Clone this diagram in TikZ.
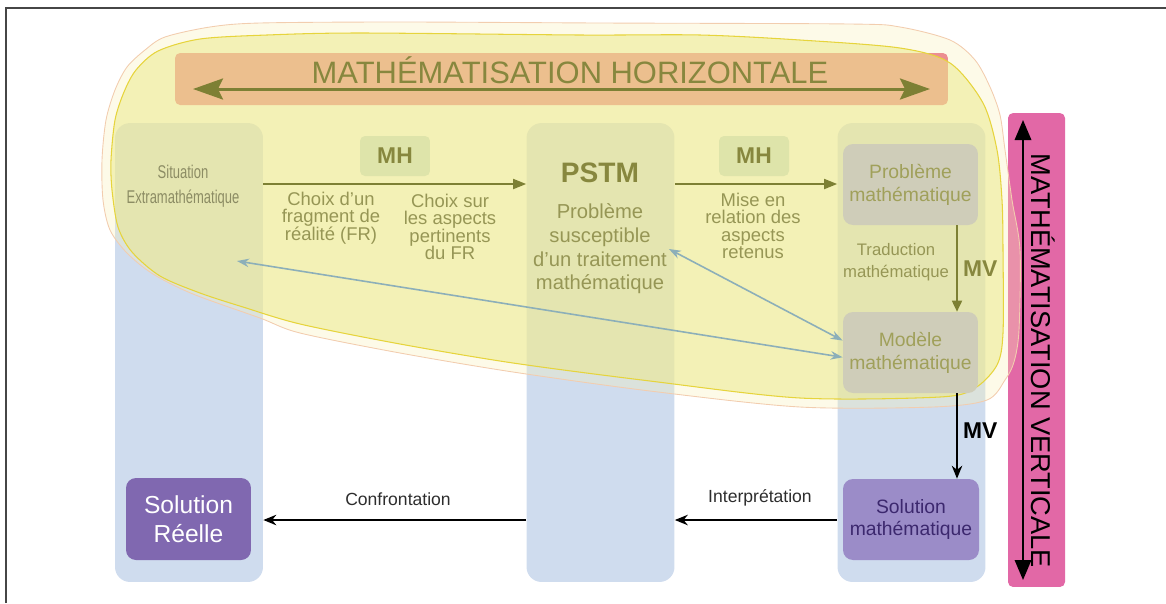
\documentclass[tikz,border=0pt]{standalone}
\usepackage{fontspec}
\setmainfont{Liberation Sans}
\usetikzlibrary{arrows.meta}
\usetikzlibrary{positioning}

\definecolor{framegray}{RGB}{70,70,70}
\definecolor{colblue}{RGB}{207,220,238}
\definecolor{bannerred}{RGB}{230,100,130}
\definecolor{barpink}{RGB}{226,104,166}
\definecolor{blobpale}{RGB}{250,240,180}
\definecolor{blobyellow}{RGB}{236,233,140}
\definecolor{blobline}{RGB}{230,212,60}
\definecolor{bloboutline}{RGB}{242,205,175}
\definecolor{titleolive}{RGB}{135,135,62}
\definecolor{arrowolive}{RGB}{125,128,52}
\definecolor{textolive}{RGB}{150,150,85}
\definecolor{sitgray}{RGB}{140,140,100}
\definecolor{mhfill}{RGB}{222,228,170}
\definecolor{boxgray}{RGB}{207,205,185}
\definecolor{boxtext}{RGB}{160,160,90}
\definecolor{linkblue}{RGB}{140,175,185}
\definecolor{solmfill}{RGB}{155,140,200}
\definecolor{solmtext}{RGB}{60,40,110}
\definecolor{solrfill}{RGB}{128,104,176}
\definecolor{labelgray}{RGB}{45,45,45}

\begin{document}
\begin{tikzpicture}[x=0.02cm,y=-0.02cm,
    column/.style={fill=colblue,rounded corners=0.3cm,minimum width=2.96cm,minimum height=9.18cm,inner sep=0pt},
    mhbox/.style={fill=mhfill,rounded corners=0.1cm,minimum width=1.4cm,minimum height=0.8cm,text=titleolive,font=\bfseries\fontsize{13}{15}\selectfont},
    graybox/.style={fill=boxgray,rounded corners=0.2cm,minimum width=2.7cm,minimum height=1.62cm,align=center,text=boxtext,font=\fontsize{11}{13}\selectfont},
    smalltext/.style={align=center,text=textolive,inner sep=1pt,font=\fontsize{10.5}{10}\selectfont},
    midtext/.style={align=center,text=textolive,inner sep=1pt,font=\fontsize{11.5}{13.5}\selectfont},
    labeltext/.style={text=labelgray,font=\fontsize{10}{12}\selectfont},
    mvlabel/.style={font=\bfseries\fontsize{13}{15}\selectfont,inner sep=1pt},
    mharrow/.style={draw=arrowolive,line width=1pt,-{Triangle[length=2.6mm,width=2mm]}},
    blackarrow/.style={draw=black,line width=1pt,-{Stealth[length=2.6mm,width=2.1mm]}},
    linkarrow/.style={draw=linkblue,line width=0.9pt,{Stealth[length=2.4mm,width=1.7mm]}-{Stealth[length=2.4mm,width=1.7mm]}}]
  \useasboundingbox (0,0) rectangle (1166,603);
  \draw[framegray,line width=0.8pt] (6,603) -- (6,8) -- (1166,8);

  % columns
  \node[column] (colL) at (189,352.5) {};
  \node[column] (colM) at (600.5,352.5) {};
  \node[column] (colR) at (911.5,352.5) {};

  \node[fill=bannerred,rounded corners=0.1cm,minimum width=15.46cm,minimum height=1.04cm] (banner) at (561.5,79) {};
  \node[fill=barpink,rounded corners=0.1cm,minimum width=1.14cm,minimum height=9.48cm] (vbar) at (1036.5,350) {};

  % the yellow zone
  \path[draw=bloboutline,line width=0.5pt,fill=blobpale,fill opacity=0.3] plot[smooth cycle,tension=0.5] coordinates {(102,160) (106,120) (115,90) (127,67) (145,50) (165,37) (210,27) (260,23) (400,22) (600,23) (850,24) (900,27) (950,40) (975,60) (990,87) (1000,115) (1005,150) (1012,200) (1020,250) (1019,330) (1014,362) (1005,380) (987,400) (933,407) (800,407) (650,391) (513,372) (400,353) (300,333) (260,318) (193,294) (153,274) (127,253) (110,230) (103,200)};
  \path[draw=blobline,line width=0.6pt,fill=blobyellow,fill opacity=0.55] plot[smooth cycle,tension=0.5] coordinates {(111,160) (115,120) (124,92) (136,70) (158,51) (200,39) (267,35) (360,33) (580,35) (700,35) (800,40) (900,48) (950,63) (983,103) (997,150) (1002,200) (1003,250) (1003,333) (997,365) (975,388) (940,397) (800,398) (650,381) (513,363) (400,344) (300,324) (243,307) (200,293) (160,276) (132,252) (118,227) (112,190)};

  \node[text=titleolive,font=\fontsize{17.6}{20}\selectfont] (mhtitle) at (570,70) {MATHÉMATISATION HORIZONTALE};
  \coordinate (hl) at (193,89);
  \coordinate (hr) at (930,89);
  \draw[arrowolive,line width=1.7pt,{Stealth[length=6mm,width=4.2mm,inset=1mm]}-{Stealth[length=6mm,width=4.2mm,inset=1mm]}] (hl) -- (hr);

  \node[font=\fontsize{15.5}{18}\selectfont,rotate=-90] (mvtitle) at (1043,361) {MATHÉMATISATION VERTICALE};
  \coordinate (vt) at (1023,120);
  \coordinate (vb) at (1023,580);
  \draw[line width=1pt,{Triangle[length=4mm,width=3.3mm]}-{Triangle[length=4mm,width=3.3mm]}] (vt) -- (vb);

  \node[align=center,text=sitgray,font=\fontsize{10}{14}\selectfont] (sit) at (183,186.5) {\scalebox{0.74}[1.05]{Situation}\\\scalebox{0.74}[1.05]{Extramathématique}};

  \node[mhbox] (mh1) at (395,156) {MH};
  \node[mhbox] (mh2) at (754,156) {MH};
  \coordinate (row) at (0,184);
  \draw[mharrow] (colL.east |- row) -- (colM.west |- row);
  \draw[mharrow] (colM.east |- row) -- (colR.west |- row);
  \node[smalltext] (choix1) at (331,218) {Choix d'un\\fragment de\\réalité (FR)};
  \node[smalltext] (choix2) at (450,227) {Choix sur\\les aspects\\pertinents\\du FR};
  \node[smalltext] (mise) at (753,226) {Mise en\\relation des\\aspects\\retenus};

  \node[text=titleolive,font=\bfseries\fontsize{16}{19}\selectfont] (pstm) at (600,173) {PSTM};
  \node[midtext] (pstmtxt) at (600,249) {Problème\\susceptible\\d'un traitement\\mathématique};

  \node[graybox] (prob) at (910.5,184.5) {Problème\\mathématique};
  \node[graybox] (model) at (910.5,352.5) {Modèle\\mathématique};
  \node[graybox,fill=solmfill,text=solmtext,minimum width=2.72cm] (solm) at (911,519.5) {Solution\\mathématique};
  \node[fill=solrfill,rounded corners=0.2cm,minimum width=2.5cm,minimum height=1.64cm,align=center,text=white,font=\fontsize{14}{16.5}\selectfont] (solr) at (188.5,519) {Solution\\Réelle};

  \node[align=center,text=textolive,font=\fontsize{9.5}{12.5}\selectfont] (trad) at (896,262) {Traduction\\mathématique};
  \coordinate (vx) at (957,0);
  \draw[mharrow,-{Triangle[length=2.2mm,width=2mm]}] (prob.south -| vx) -- (model.north -| vx) node[midway,right=2pt,mvlabel,text=titleolive] {MV};
  \draw[blackarrow] (model.south -| vx) -- (solm.north -| vx) node[midway,right=2pt,mvlabel,yshift=0.1cm] {MV};

  \coordinate (low) at (0,520);
  \draw[blackarrow] (colR.west |- low) -- (colM.east |- low);
  \draw[blackarrow] (colM.west |- low) -- (colL.east |- low);
  \node[labeltext] (interp) at (760,498) {Interprétation};
  \node[labeltext] (conf) at (398,499) {Confrontation};

  \coordinate (sitpt) at (237,261);
  \draw[linkarrow] (sitpt) -- (model.184);
  \draw[linkarrow] (pstmtxt.east) -- (model.170);
\end{tikzpicture}
\end{document}
